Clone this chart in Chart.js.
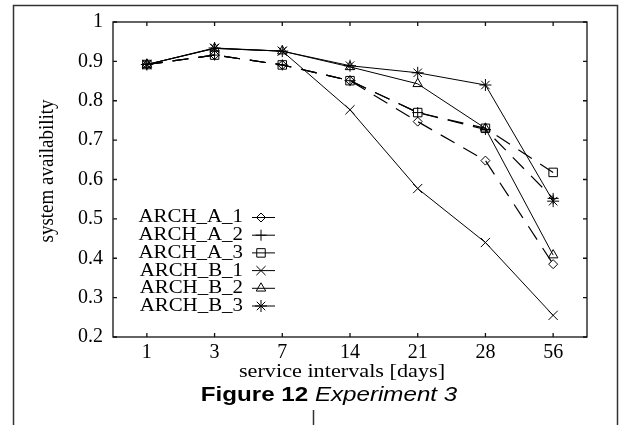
<!DOCTYPE html>
<html>
<head>
<meta charset="utf-8">
<script src="https://cdn.jsdelivr.net/npm/chart.js@4.4.1/dist/chart.umd.min.js"></script>
<style>
  html, body { margin: 0; padding: 0; background: #fff; }
  canvas { display: block; }
</style>
</head>
<body>
<canvas id="chart" width="626" height="425"></canvas>
<script>
const intervals = ["1", "3", "7", "14", "21", "28", "56"];
const yTicks = [0.2, 0.3, 0.4, 0.5, 0.6, 0.7, 0.8, 0.9, 1];

const archA1 = [0.892, 0.916, 0.891, 0.851, 0.747, 0.648, 0.385];
const archA2 = [0.892, 0.916, 0.891, 0.851, 0.770, 0.727, 0.552];
const archA3 = [0.892, 0.916, 0.891, 0.851, 0.770, 0.730, 0.618];
const archB1 = [0.892, 0.933, 0.926, 0.777, 0.577, 0.440, 0.255];
const archB2 = [0.892, 0.933, 0.926, 0.886, 0.843, 0.730, 0.408];
const archB3 = [0.892, 0.934, 0.926, 0.889, 0.871, 0.840, 0.545];

const serif = "'Liberation Serif', 'Times New Roman', serif";
const sans = "'Liberation Sans', Arial, sans-serif";

function series(label, data, pointStyle, radius, dashed) {
  return {
    label,
    data,
    borderColor: "#000",
    borderWidth: dashed ? 1.2 : 1,
    borderDash: dashed ? [16, 10] : [],
    pointStyle,
    pointRadius: radius,
    pointBorderWidth: 1,
    pointBorderColor: "#000",
    pointBackgroundColor: "rgba(0,0,0,0)",
    tension: 0,
    fill: false,
  };
}

// text in the source figure is a bit wider than it is tall
function wideText(ctx, text, x, y, sx, align) {
  ctx.save();
  ctx.translate(x, y);
  ctx.scale(sx, 1);
  ctx.textAlign = align;
  ctx.fillText(text, 0, 0);
  ctx.restore();
}

const frame = {
  id: "frame",
  afterDraw(chart) {
    const { ctx, chartArea: a, scales } = chart;
    ctx.save();

    // page box
    ctx.strokeStyle = "#333";
    ctx.lineWidth = 1.5;
    ctx.beginPath();
    ctx.moveTo(13.5, 425);
    ctx.lineTo(13.5, 5.5);
    ctx.lineTo(617.5, 5.5);
    ctx.lineTo(617.5, 425);
    ctx.moveTo(313.5, 410);
    ctx.lineTo(313.5, 425);
    ctx.stroke();

    // plot border + inward ticks
    ctx.strokeStyle = "#111";
    ctx.lineWidth = 1.3;
    ctx.strokeRect(a.left, a.top, a.right - a.left, a.bottom - a.top);
    ctx.beginPath();
    scales.x.ticks.forEach((t, i) => {
      const x = scales.x.getPixelForTick(i);
      ctx.moveTo(x, a.bottom); ctx.lineTo(x, a.bottom - 4);
      ctx.moveTo(x, a.top); ctx.lineTo(x, a.top + 4);
    });
    scales.y.ticks.forEach((t, i) => {
      const y = scales.y.getPixelForTick(i);
      ctx.moveTo(a.left, y); ctx.lineTo(a.left + 4, y);
      ctx.moveTo(a.right, y); ctx.lineTo(a.right - 4, y);
    });
    ctx.stroke();

    // axis titles
    ctx.fillStyle = "#000";
    ctx.textBaseline = "middle";
    ctx.font = "19px " + serif;
    wideText(ctx, "service intervals [days]", 342, 372, 1.17, "center");
    ctx.save();
    ctx.translate(47, 171);
    ctx.rotate(-Math.PI / 2);
    ctx.scale(1, 1.12);
    ctx.textAlign = "center";
    ctx.fillText("system availability", 0, 0);
    ctx.restore();

    // caption
    const sx = 1.15;
    const bold = "bold 21px " + sans;
    const ital = "italic 21px " + sans;
    ctx.font = bold;
    const w1 = ctx.measureText("Figure 12 ").width * sx;
    ctx.font = ital;
    const w2 = ctx.measureText("Experiment 3").width * sx;
    const x0 = 329 - (w1 + w2) / 2;
    ctx.font = bold;
    wideText(ctx, "Figure 12 ", x0, 395, sx, "left");
    ctx.font = ital;
    wideText(ctx, "Experiment 3", x0 + w1, 395, sx, "left");

    // key
    ctx.font = "19px " + serif;
    chart.data.datasets.forEach((ds, i) => {
      const y = 217.5 + i * 17.7;
      ctx.fillStyle = "#000";
      wideText(ctx, ds.label, 243, y, 1.1, "right");
      ctx.strokeStyle = "#000";
      ctx.lineWidth = 1;
      ctx.setLineDash([]);
      ctx.beginPath();
      ctx.moveTo(252, y);
      ctx.lineTo(275, y);
      ctx.stroke();
      ctx.fillStyle = "rgba(0,0,0,0)";
      Chart.helpers.drawPoint(ctx, {
        pointStyle: ds.pointStyle,
        radius: ds.pointRadius,
        rotation: 0,
        borderWidth: 1,
      }, 261, y);
    });
    ctx.restore();
  },
};

new Chart(document.getElementById("chart"), {
  type: "line",
  data: {
    labels: intervals,
    datasets: [
      series("ARCH_A_1", archA1, "rectRot", 4.5, true),
      series("ARCH_A_2", archA2, "cross", 5.5, true),
      series("ARCH_A_3", archA3, "rect", 6, true),
      series("ARCH_B_1", archB1, "crossRot", 6.5, false),
      series("ARCH_B_2", archB2, "triangle", 5.5, false),
      series("ARCH_B_3", archB3, "star", 6, false),
    ],
  },
  options: {
    responsive: false,
    animation: false,
    devicePixelRatio: 1,
    layout: { padding: { top: 21, right: 39, left: 0, bottom: 0 } },
    plugins: {
      legend: { display: false },
      tooltip: { enabled: false },
    },
    scales: {
      x: {
        offset: true,
        grid: { display: false, drawTicks: false },
        border: { display: false },
        ticks: {
          color: "#000",
          font: { family: serif, size: 20 },
          padding: 4,
          maxRotation: 0,
          autoSkip: false,
        },
        afterFit(scale) { scale.height = 88; },
      },
      y: {
        min: 0.2,
        max: 1,
        grid: { display: false, drawTicks: false },
        border: { display: false },
        afterBuildTicks(scale) {
          scale.ticks = yTicks.map((v) => ({ value: v }));
        },
        ticks: {
          color: "#000",
          font: { family: serif, size: 20 },
          padding: 10,
          callback: (v) => String(Number(v.toFixed(1))),
        },
        afterFit(scale) { scale.width = 113; },
      },
    },
  },
  plugins: [frame],
});
</script>
</body>
</html>
